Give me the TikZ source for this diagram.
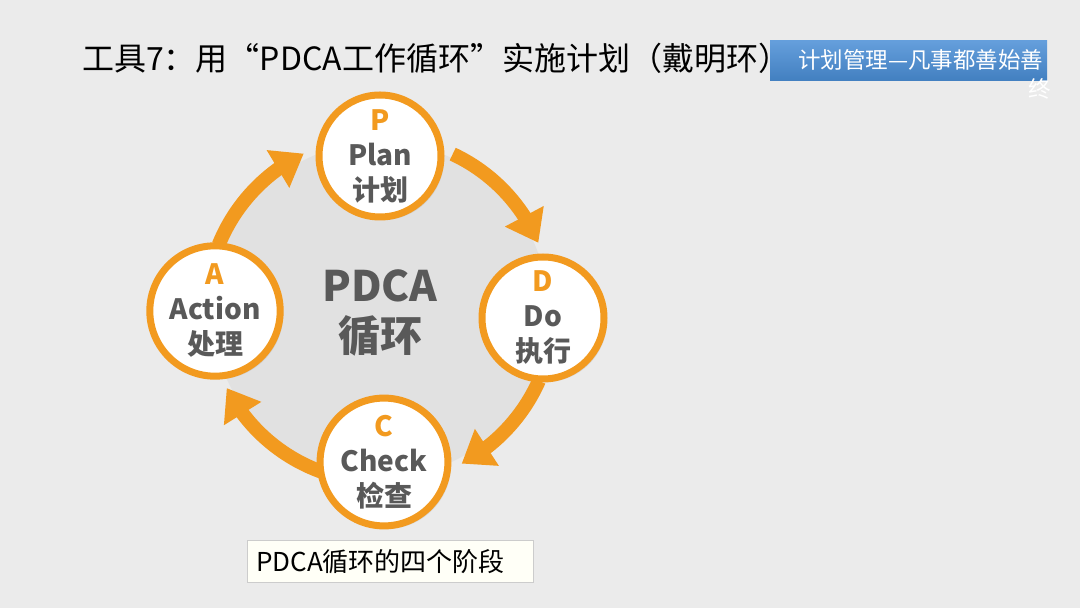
\documentclass[tikz,border=0pt]{standalone}
\usepackage{fontspec}
\setmainfont{Noto Sans CJK SC}
\usetikzlibrary{calc,positioning,shapes,shadows,arrows.meta,bending}
\definecolor{pdcaorange}{HTML}{F29A1F}
\definecolor{pdcagray}{HTML}{595959}
\definecolor{bggray}{HTML}{EBEBEB}
\definecolor{diskgray}{HTML}{E1E1E1}
\definecolor{tagblue}{HTML}{4A8ED6}
\tikzset{
	stage/.style={circle,draw=pdcaorange,line width=7pt,fill=white,minimum size=122pt,inner sep=0pt,align=center,text=pdcagray,font=\bfseries\fontsize{28}{35}\selectfont,drop shadow={opacity=.18,shadow xshift=3pt,shadow yshift=-3pt}},
	cyclearrow/.style={pdcaorange,line width=14pt,-{Triangle[width=42pt,length=30pt]}},
}
\newcommand{\stagetext}[3]{{\color{pdcaorange}#1}\\#2\\#3}

\begin{document}
\begin{tikzpicture}[x=1pt,y=1pt]
		\fill[bggray] (0,0) rectangle (1080,608);
		\useasboundingbox (0,0) rectangle (1080,608);
		\coordinate (cyc) at (380,298);
		\fill[diskgray] (cyc) circle (168);
		\draw[cyclearrow] ($(cyc)+(65:172)$) arc[start angle=65,end angle=23,radius=172];
		\draw[cyclearrow] ($(cyc)+(-24:174)$) arc[start angle=-24,end angle=-62,radius=174];
		\draw[cyclearrow] ($(cyc)+(-109:172)$) arc[start angle=-109,end angle=-153,radius=172];
		\draw[cyclearrow] ($(cyc)+(158:174)$) arc[start angle=158,end angle=116,radius=174];
		\node(P) [stage] at (380,452) {\stagetext{P}{Plan}{计划}};
		\node(D) [stage] at (543,290) {\stagetext{D}{Do}{执行}};
		\node(C) [stage] at (384,146) {\stagetext{C}{Check}{检查}};
		\node(A) [stage] at (215,297) {\stagetext{A}{Action}{处理}};
		\node(core) [align=center,text=pdcagray,font=\bfseries\fontsize{42}{50}\selectfont] at (380,295) {PDCA\\循环};
		\node(title) [anchor=west,inner sep=0pt] at (82,550) {\fontsize{32}{38}\selectfont 工具7：用“PDCA工作循环”实施计划（戴明环）};
		\node(tag) [anchor=north west,minimum width=277pt,minimum height=40pt,top color=tagblue!85!white,bottom color=tagblue!90!black,inner sep=0pt] at (770,568) {};
		\node(tagtext) [anchor=west,text=white,inner sep=0pt] at ($(tag.west)+(28,0)$) {\fontsize{22.5}{26}\selectfont 计划管理—凡事都善始善};
		\node(tagtail) [anchor=north,text=white,inner sep=0pt] at ($(tag.south east)+(-8,2)$) {\fontsize{22.5}{26}\selectfont 终};
		\node(caption) [anchor=north west,draw=black!20,fill=yellow!3,minimum width=286pt,minimum height=42pt,inner sep=0pt] at (247,68) {};
		\node(captiontext) [anchor=west,inner sep=0pt] at ($(caption.west)+(9,0)$) {\fontsize{26}{30}\selectfont PDCA循环的四个阶段};
	\end{tikzpicture}
\end{document}
